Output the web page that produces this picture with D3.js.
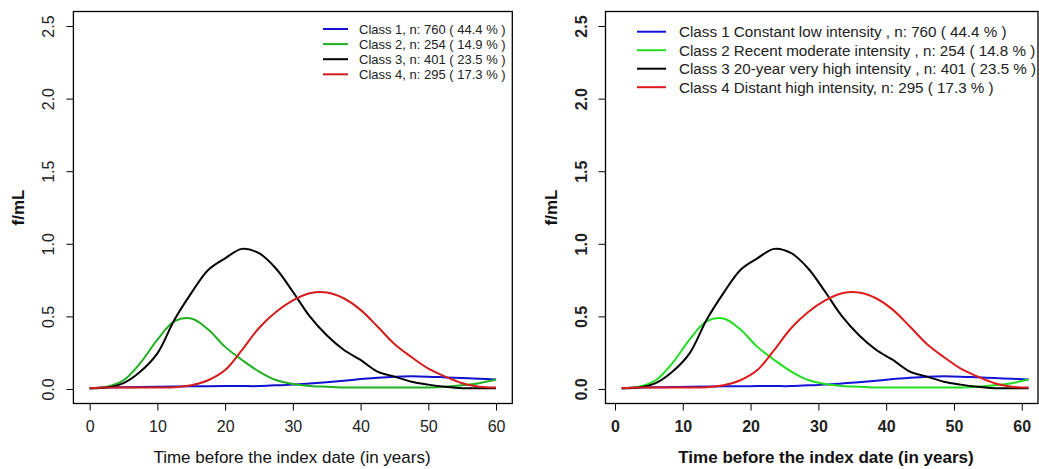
<!DOCTYPE html>
<html>
<head>
<meta charset="utf-8">
<script src="https://cdn.jsdelivr.net/npm/d3@7"></script>
<style>
  body { margin: 0; background: #fff; }
  svg { display: block; font-family: 'Liberation Sans', Arial, sans-serif; }
</style>
</head>
<body>
<svg id="chart" width="1039" height="469"></svg>
<script>
// years before index date (left panel starts at 0, right panel at 1)
const yearsLeft = [0, 2.5, 5, 7.5, 10, 12.5, 15, 17.5, 20, 22.5, 25, 27.5, 30, 32.5, 35, 37.5, 40, 42.5, 45, 47.5, 50, 52.5, 55, 57.5, 60];
const yearsRight = [1, 3.5, 6, 8.5, 11, 13.5, 16, 18.5, 21, 23.5, 26, 28.5, 31, 33.5, 36, 38.5, 41, 43.5, 46, 48.5, 51, 53.5, 56, 58.5, 61];

const class1 = [0.005, 0.01, 0.012, 0.013, 0.015, 0.017, 0.018, 0.019, 0.02, 0.02, 0.02, 0.025, 0.03, 0.038, 0.047, 0.057, 0.068, 0.078, 0.085, 0.087, 0.085, 0.08, 0.075, 0.07, 0.065];
const class2 = [0.005, 0.015, 0.06, 0.18, 0.34, 0.465, 0.485, 0.41, 0.29, 0.2, 0.12, 0.062, 0.034, 0.02, 0.015, 0.01, 0.01, 0.01, 0.01, 0.01, 0.01, 0.015, 0.025, 0.04, 0.065];
const class3 = [0.005, 0.01, 0.04, 0.12, 0.245, 0.475, 0.66, 0.82, 0.9, 0.965, 0.935, 0.83, 0.67, 0.5, 0.37, 0.27, 0.2, 0.12, 0.085, 0.05, 0.03, 0.015, 0.005, 0.005, 0.005];
const class4 = [0.005, 0.01, 0.01, 0.01, 0.01, 0.012, 0.025, 0.06, 0.13, 0.27, 0.42, 0.53, 0.61, 0.66, 0.665, 0.625, 0.545, 0.43, 0.31, 0.22, 0.14, 0.085, 0.04, 0.015, 0.01];

const xTicks = [0, 10, 20, 30, 40, 50, 60];
const yTicks = [0, 0.5, 1, 1.5, 2, 2.5];

const labelsLeft = [
  'Class 1, n: 760 ( 44.4 % )',
  'Class 2, n: 254 ( 14.9 % )',
  'Class 3, n: 401 ( 23.5 % )',
  'Class 4, n: 295 ( 17.3 % )'
];
const labelsRight = [
  'Class 1 Constant low intensity , n: 760 ( 44.4 % )',
  'Class 2 Recent moderate intensity , n: 254 ( 14.8 % )',
  'Class 3 20-year very high intensity , n: 401 ( 23.5 % )',
  'Class 4 Distant high intensity, n: 295 ( 17.3 % )'
];

const svg = d3.select('#chart');

function drawPanel(cfg) {
  const g = svg.append('g');
  const box = cfg.box;

  const x = d3.scaleLinear().domain(cfg.xDomain).range([box.left, box.xEnd]);
  const y = d3.scaleLinear().domain([-0.1, 2.6]).range([box.bottom, box.top]);

  const weight = cfg.bold ? 'bold' : 'normal';

  // x axis
  g.append('g')
    .attr('transform', `translate(0,${box.bottom})`)
    .call(d3.axisBottom(x).tickValues(xTicks).tickSize(7).tickFormat(d3.format('d')))
    .call((a) => a.select('.domain').remove())
    .call((a) => a.selectAll('line').attr('stroke', '#000'))
    .call((a) =>
      a.selectAll('text')
        .attr('y', 17)
        .attr('fill', '#222')
        .attr('font-size', 16)
        .attr('font-weight', weight)
        .attr('font-family', null)
    );

  // y axis with rotated labels
  g.append('g')
    .attr('transform', `translate(${box.left},0)`)
    .call(d3.axisLeft(y).tickValues(yTicks).tickSize(7).tickFormat(d3.format('.1f')))
    .call((a) => a.select('.domain').remove())
    .call((a) => a.selectAll('line').attr('stroke', '#000'))
    .call((a) =>
      a.selectAll('text')
        .attr('x', 0)
        .attr('dy', '0.36em')
        .attr('text-anchor', 'middle')
        .attr('transform', `translate(${cfg.yLabelOffset},0) rotate(-90)`)
        .attr('fill', '#222')
        .attr('font-size', 16)
        .attr('font-weight', weight)
        .attr('font-family', null)
    );

  // box
  g.append('rect')
    .attr('x', box.left)
    .attr('y', box.top)
    .attr('width', box.right - box.left)
    .attr('height', box.bottom - box.top)
    .attr('fill', 'none')
    .attr('stroke', '#000')
    .attr('stroke-width', 1.3);

  // titles
  g.append('text')
    .attr('transform', `translate(${cfg.yTitleX},${y(1.25)}) rotate(-90)`)
    .attr('text-anchor', 'middle')
    .attr('dy', '0.36em')
    .attr('font-size', 17)
    .attr('font-weight', 'bold')
    .attr('fill', '#111')
    .text('f/mL');

  g.append('text')
    .attr('x', cfg.xTitleX)
    .attr('y', 463)
    .attr('text-anchor', 'middle')
    .attr('font-size', 17)
    .attr('font-weight', weight)
    .attr('fill', '#111')
    .text('Time before the index date (in years)');

  // curves
  const clipId = 'clip' + cfg.id;
  svg.append('clipPath').attr('id', clipId)
    .append('rect')
    .attr('x', box.left).attr('y', box.top)
    .attr('width', box.right - box.left).attr('height', box.bottom - box.top);

  const line = d3.line()
    .x((d) => x(d[0]))
    .y((d) => y(d[1]))
    .curve(d3.curveCatmullRom.alpha(0.5));

  const series = [class1, class2, class3, class4];
  series.forEach((vals, i) => {
    g.append('path')
      .datum(cfg.years.map((yr, j) => [yr, vals[j]]))
      .attr('clip-path', `url(#${clipId})`)
      .attr('fill', 'none')
      .attr('stroke', cfg.colors[i])
      .attr('stroke-width', 2)
      .attr('stroke-linejoin', 'round')
      .attr('d', line);
  });

  // legend
  const lg = g.append('g');
  cfg.labels.forEach((lab, i) => {
    const cy = cfg.legend.y0 + i * cfg.legend.dy;
    lg.append('line')
      .attr('x1', cfg.legend.x1)
      .attr('x2', cfg.legend.x2)
      .attr('y1', cy)
      .attr('y2', cy)
      .attr('stroke', cfg.colors[i])
      .attr('stroke-width', 2);
    lg.append('text')
      .attr('x', cfg.legend.tx)
      .attr('y', cy)
      .attr('dy', '0.36em')
      .attr('font-size', cfg.legend.size)
      .attr('fill', '#222')
      .text(lab);
  });
}

drawPanel({
  id: 'L',
  box: { left: 73.4, right: 512.3, xEnd: 512.3, top: 11.5, bottom: 403.5 },
  xDomain: [-2.4, 62.4],
  years: yearsLeft,
  colors: ['#1010d0', '#20b020', '#000000', '#d41c1c'],
  labels: labelsLeft,
  bold: false,
  yLabelOffset: -25,
  yTitleX: 18,
  xTitleX: 292,
  legend: { x1: 323, x2: 348, tx: 359, y0: 29, dy: 15.1, size: 13 }
});

drawPanel({
  id: 'R',
  box: { left: 605.5, right: 1038, xEnd: 1044.8, top: 11.5, bottom: 403.5 },
  xDomain: [-1.4, 63.4],
  years: yearsRight,
  colors: ['#1414d8', '#22dd22', '#000000', '#dd1c1c'],
  labels: labelsRight,
  bold: true,
  yLabelOffset: -24,
  yTitleX: 551,
  xTitleX: 826,
  legend: { x1: 637, x2: 666, tx: 679, y0: 31.7, dy: 18.5, size: 15.2 }
});
</script>
</body>
</html>
